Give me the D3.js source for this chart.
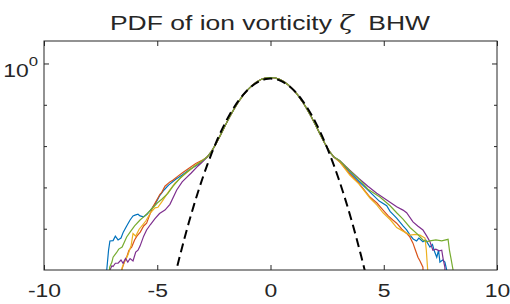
<!DOCTYPE html>
<html>
<head>
<meta charset="utf-8">
<script src="https://cdn.jsdelivr.net/npm/d3@7"></script>
<style>
  body { margin: 0; background: #fff; }
  text { font-family: "Liberation Sans", Arial, sans-serif; fill: #262626; }
</style>
</head>
<body>
<script>
var w = 510;
var h = 304;

// x ticks and the log y ticks
var xTicks = [-10, -5, 0, 5, 10];
var yMajor = [1];
var yMinor = [0.1, 0.01, 0.001, 0.0001];

// centre of the measured PDFs (shared by all runs)
var core = [[-2.8,0.0056],[-2.6,0.0077],[-2.4,0.0119],[-2.2,0.0195],[-2.0,0.0325],[-1.8,0.053],
    [-1.6,0.083],[-1.4,0.125],[-1.2,0.178],[-1.0,0.24],[-0.8,0.305],[-0.6,0.37],[-0.4,0.425],
    [-0.2,0.46],[0,0.47],[0.2,0.46],[0.4,0.425],[0.6,0.37],[0.8,0.305],[1.0,0.24],[1.2,0.178],
    [1.4,0.125],[1.6,0.083],[1.8,0.053],[2.0,0.0325],[2.2,0.0195],[2.4,0.0119],[2.6,0.0077],[2.8,0.0056]];

// tails of each run
var blueLeft = [[-7.3,1e-6],[-7.23,1.03e-5],[-7.15,3.1e-5],[-7.09,5.2e-5],[-6.95,5.3e-5],[-6.85,6.8e-5],
    [-6.73,5.5e-5],[-6.6,6.1e-5],[-6.5,8.5e-5],[-6.35,1.2e-4],[-6.2,1.67e-4],[-6.07,2.1e-4],[-5.98,2.2e-4],
    [-5.85,2.3e-4],[-5.76,2.1e-4],[-5.6,2.0e-4],[-5.45,2.3e-4],[-5.3,2.9e-4],[-5.1,4.0e-4],[-4.9,6.4e-4],
    [-4.7,8.9e-4],[-4.5,1.17e-3],[-4.2,1.6e-3],[-3.9,2.05e-3],[-3.6,2.7e-3],[-3.2,3.7e-3],[-3.0,4.5e-3]];
var blueRight = [[3.05,4.5e-3],[3.5,2.4e-3],[3.9,1.45e-3],[4.2,1.0e-3],[4.53,6.7e-4],[4.8,4.8e-4],[5.13,3.7e-4],
    [5.28,2.7e-4],[5.57,1.85e-4],[5.85,1.2e-4],[6.01,9.6e-5],[6.16,7.2e-5],[6.3,5.8e-5],[6.45,5.2e-5],
    [6.55,6.1e-5],[6.73,5.0e-5],[6.85,5.5e-5],[7.04,3.7e-5],[7.15,4.3e-5],[7.25,2.8e-5],[7.34,2.1e-5],
    [7.42,3.1e-5],[7.48,1.6e-5],[7.6,1.8e-5],[7.7,1.6e-5],[7.78,1.03e-5],[7.82,1e-6]];

var orangeLeft = [[-6.65,1e-6],[-6.57,1.03e-5],[-6.51,1.3e-5],[-6.42,1.8e-5],[-6.35,2.1e-5],[-6.25,3.1e-5],
    [-6.13,3.7e-5],[-6.0,5.5e-5],[-5.9,6.8e-5],[-5.75,8.5e-5],[-5.6,1.2e-4],[-5.47,1.4e-4],[-5.35,2.1e-4],
    [-5.19,3.5e-4],[-5.02,5.1e-4],[-4.88,7.0e-4],[-4.8,7.8e-4],[-4.66,1.1e-3],[-4.44,1.4e-3],[-4.3,1.55e-3],
    [-4.1,1.9e-3],[-3.9,2.3e-3],[-3.6,3.0e-3],[-3.3,3.9e-3],[-3.0,4.7e-3]];
var orangeRight = [[3.05,4.3e-3],[3.5,2.2e-3],[3.9,1.3e-3],[4.39,6.0e-4],[4.7,4.3e-4],[4.97,2.9e-4],[5.2,2.1e-4],
    [5.4,1.67e-4],[5.57,1.4e-4],[5.8,1.0e-4],[6.01,7.9e-5],[6.15,6.5e-5],[6.29,4.6e-5],[6.4,3.1e-5],
    [6.51,2.1e-5],[6.6,1.7e-5],[6.73,1.2e-5],[6.78,1e-6]];

var yellowLeft = [[-6.6,1e-6],[-6.55,1.2e-5],[-6.45,1.6e-5],[-6.29,2.4e-5],[-6.15,4.1e-5],[-6.07,7.9e-5],
    [-5.95,6.8e-5],[-5.8,1.0e-4],[-5.65,1.26e-4],[-5.5,1.6e-4],[-5.3,2.5e-4],[-5.1,3.3e-4],[-4.97,3.4e-4],
    [-4.8,4.6e-4],[-4.66,6.0e-4],[-4.45,8.9e-4],[-4.22,1.3e-3],[-3.9,1.9e-3],[-3.6,2.6e-3],[-3.3,3.6e-3],[-3.0,4.6e-3]];
var yellowRight = [[3.05,4.3e-3],[3.5,2.05e-3],[3.9,1.25e-3],[4.39,5.7e-4],[4.7,3.85e-4],[4.97,2.5e-4],[5.3,1.67e-4],
    [5.57,1.1e-4],[5.85,9.0e-5],[6.16,7.2e-5],[6.4,7.5e-5],[6.6,7.2e-5],[6.82,6.1e-5],[6.88,3.1e-5],
    [6.9,2.1e-5],[6.94,1.03e-5],[6.96,1e-6]];

var purpleLeft = [[-7.15,1e-6],[-7.09,1.03e-5],[-7.0,1.3e-5],[-6.95,1.25e-5],[-6.85,1.5e-5],[-6.73,1.5e-5],
    [-6.6,1.8e-5],[-6.51,1.5e-5],[-6.4,1.95e-5],[-6.3,1.6e-5],[-6.2,1.95e-5],[-6.07,1.7e-5],[-5.95,2.8e-5],
    [-5.85,3.1e-5],[-5.76,3.9e-5],[-5.6,6.8e-5],[-5.47,9.6e-5],[-5.3,1.3e-4],[-5.1,1.8e-4],[-4.9,2.4e-4],
    [-4.66,2.9e-4],[-4.44,4.0e-4],[-4.14,8.9e-4],[-3.9,1.4e-3],[-3.7,1.8e-3],[-3.5,2.3e-3],[-3.2,3.4e-3],[-3.0,4.3e-3]];
var purpleRight = [[3.05,4.6e-3],[3.5,2.7e-3],[3.9,1.7e-3],[4.3,1.1e-3],[4.69,7.4e-4],[5.13,5.1e-4],[5.57,3.5e-4],
    [5.85,2.9e-4],[6.01,2.5e-4],[6.29,1.5e-4],[6.5,1.2e-4],[6.73,9.6e-5],[6.9,6.8e-5],[7.04,5.0e-5],
    [7.17,3.1e-5],[7.3,3.3e-5],[7.45,3.0e-5],[7.56,3.1e-5],[7.62,1.95e-5],[7.7,1.2e-5],[7.74,1e-6]];

var greenLeft = [[-7.2,1e-6],[-7.1,1.2e-5],[-7.0,1.6e-5],[-6.95,2.1e-5],[-6.8,2.7e-5],[-6.7,3.3e-5],
    [-6.55,3.7e-5],[-6.35,6.5e-5],[-6.2,8.5e-5],[-6.0,1.2e-4],[-5.76,1.67e-4],[-5.55,2.1e-4],[-5.32,2.8e-4],
    [-5.15,3.5e-4],[-5.0,4.3e-4],[-4.8,5.3e-4],[-4.53,7.4e-4],[-4.3,1.1e-3],[-4.0,1.7e-3],[-3.7,2.4e-3],
    [-3.4,3.2e-3],[-3.1,4.2e-3]];
var greenRight = [[3.05,4.6e-3],[3.5,2.6e-3],[3.95,1.55e-3],[4.3,9.3e-4],[4.83,6.0e-4],[5.28,3.7e-4],[5.57,2.5e-4],
    [5.85,1.75e-4],[6.16,1.1e-4],[6.5,7.5e-5],[6.73,5.5e-5],[6.9,5.0e-5],[7.04,5.2e-5],[7.3,5.5e-5],
    [7.56,5.2e-5],[7.84,5.7e-5],[7.9,3.1e-5],[7.97,1.95e-5],[8.06,1.03e-5],[8.1,1e-6]];

// gaussian reference (dashed)
var gaussX = [-4.4,-4.2,-4.0,-3.8,-3.6,-3.4,-3.2,-3.0,-2.8,-2.6,-2.4,-2.2,-2.0,-1.8,-1.6,-1.4,-1.2,-1.0,-0.8,-0.6,-0.4,-0.2,0,
    0.2,0.4,0.6,0.8,1.0,1.2,1.4,1.6,1.8,2.0,2.2,2.4,2.6,2.8,3.0,3.2,3.4,3.6,3.8,4.0,4.2,4.4];
var gaussY = [2.85e-6,8.25e-6,2.27e-5,5.95e-5,1.49e-4,3.53e-4,7.97e-4,1.71e-3,3.50e-3,6.82e-3,0.0127,0.0223,0.0375,0.060,
    0.0912,0.132,0.182,0.239,0.298,0.355,0.401,0.432,0.443,0.432,0.401,0.355,0.298,0.239,0.182,0.132,0.0912,0.060,
    0.0375,0.0223,0.0127,6.82e-3,3.50e-3,1.71e-3,7.97e-4,3.53e-4,1.49e-4,5.95e-5,2.27e-5,8.25e-6,2.85e-6];

var runs = [
    { color: "#0072BD", pts: blueLeft.concat(core, blueRight) },
    { color: "#D95319", pts: orangeLeft.concat(core, orangeRight) },
    { color: "#EDB120", pts: yellowLeft.concat(core, yellowRight) },
    { color: "#7E2F8E", pts: purpleLeft.concat(core, purpleRight) },
    { color: "#77AC30", pts: greenLeft.concat(core, greenRight) }
];

var pL = 44, pR = 497, pT = 41, pB = 270;
var stretch = 1.24;   // the text in the picture is a bit wide

var x = d3.scaleLinear().domain([-10, 10]).range([pL, pR]);
var y = d3.scaleLog().domain([1.03e-5, 3.6]).range([pB, pT]);

var svg = d3.select("body").append("svg").attr("width", w).attr("height", h);

svg.append("clipPath").attr("id", "clip")
    .append("rect").attr("x", pL).attr("y", pT).attr("width", pR - pL).attr("height", pB - pT);

var plot = svg.append("g").attr("clip-path", "url(#clip)");

var line = d3.line()
    .x(function (d) { return x(d[0]); })
    .y(function (d) { return y(d[1]); });

runs.forEach(function (r) {
    plot.append("path")
        .attr("d", line(r.pts))
        .attr("fill", "none")
        .attr("stroke", r.color)
        .attr("stroke-width", 1.2);
});

var gauss = gaussX.map(function (v, i) { return [v, gaussY[i]]; });
plot.append("path")
    .attr("d", line.curve(d3.curveMonotoneX)(gauss))
    .attr("fill", "none")
    .attr("stroke", "#000")
    .attr("stroke-width", 2)
    .attr("stroke-dasharray", "9,5");

// axes box
var axisColor = "#262626";
svg.append("rect")
    .attr("x", pL).attr("y", pT)
    .attr("width", pR - pL).attr("height", pB - pT)
    .attr("fill", "none").attr("stroke", axisColor).attr("stroke-width", 1);

var xb = svg.append("g").attr("transform", "translate(0," + pB + ")")
    .call(d3.axisBottom(x).tickValues(xTicks).tickSize(-5).tickPadding(14));
var xt = svg.append("g").attr("transform", "translate(0," + pT + ")")
    .call(d3.axisTop(x).tickValues(xTicks).tickSize(-5).tickFormat(""));
[xb, xt].forEach(function (g) {
    g.select(".domain").remove();
    g.selectAll("line").attr("stroke", axisColor);
});
xb.selectAll("text").attr("font-size", 18.5).attr("fill", axisColor)
    .attr("font-family", "'Liberation Sans', Arial, sans-serif")
    .attr("dy", "0.72em")
    .attr("transform", "scale(" + stretch + ",1)")
    .text(function (d) { return d < 0 ? "-" + Math.abs(d) : d; });

// y ticks, both sides, inward
function yTicks(xPos, dir) {
    yMajor.forEach(function (v) {
        svg.append("line").attr("x1", xPos).attr("x2", xPos + dir * 5)
            .attr("y1", y(v)).attr("y2", y(v)).attr("stroke", axisColor);
    });
    yMinor.forEach(function (v) {
        svg.append("line").attr("x1", xPos).attr("x2", xPos + dir * 3)
            .attr("y1", y(v)).attr("y2", y(v)).attr("stroke", axisColor);
    });
}
yTicks(pL, 1);
yTicks(pR, -1);

yMajor.forEach(function (v) {
    var t = svg.append("g")
        .attr("transform", "translate(" + (pL - 6) + "," + (y(v) + 13) + ") scale(" + stretch + ",1)")
        .append("text")
        .attr("text-anchor", "end")
        .attr("font-size", 18.5);
    t.append("tspan").text("10");
    t.append("tspan").attr("dy", -11).attr("font-size", 13.5).text("0");
});

// title
var title = svg.append("g")
    .attr("transform", "translate(270,30) scale(1.26,1)")
    .append("text")
    .attr("text-anchor", "middle")
    .attr("font-size", 21);
title.append("tspan").text("PDF of ion vorticity ");
title.append("tspan").attr("font-style", "italic").attr("font-family", "'DejaVu Serif', serif").text("ζ");
title.append("tspan").text("\u00a0 BHW");
</script>
</body>
</html>
